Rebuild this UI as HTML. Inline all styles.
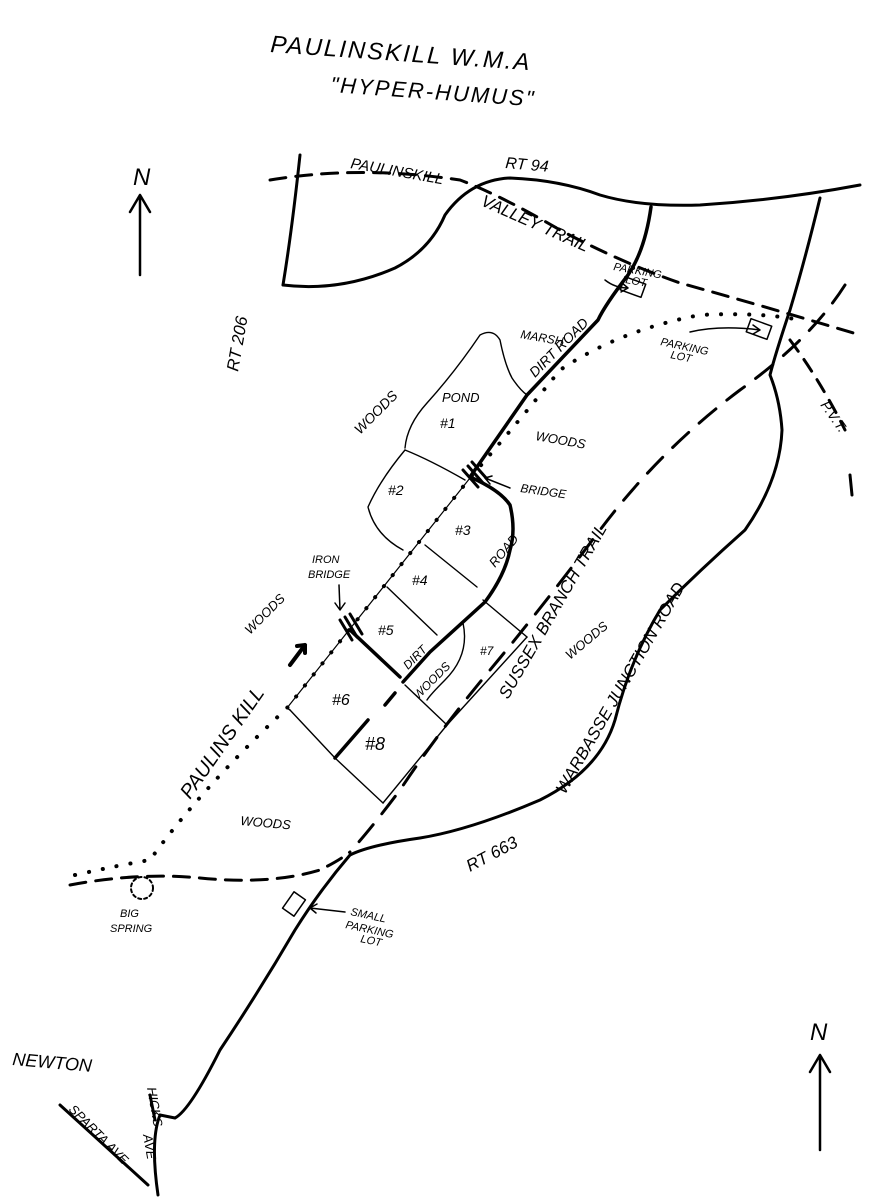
<!DOCTYPE html>
<html><head><meta charset="utf-8"><style>
html,body{margin:0;padding:0;background:#fff}
svg{display:block}
text{font-family:"Liberation Sans",sans-serif;font-style:italic;fill:#000}
</style></head><body>
<svg width="887" height="1200" viewBox="0 0 887 1200" xmlns="http://www.w3.org/2000/svg">
<g fill="none" stroke="#000" stroke-linecap="round" stroke-linejoin="round">
<!-- title -->
<!-- RT206 / RT94 roads -->
<path d="M300,155 Q292,230 283,285" stroke-width="3"/>
<path d="M283,285 Q340,292 395,268 Q430,250 445,215 Q470,180 510,178 Q560,180 600,195 Q640,207 700,205 Q780,200 860,185" stroke-width="3"/>
<path d="M283,285 Q250,330 218,375" stroke-width="0"/>
<!-- valley trail dashed -->
<path d="M270,180 Q360,165 460,180 Q500,195 560,230 Q620,262 680,283 Q760,305 860,335" stroke-width="3" stroke-dasharray="16,10"/>
<!-- road down from RT94 -->
<path d="M651,207 Q645,250 628,275 Q605,305 598,320 L527,395 L470,477" stroke-width="3.5"/>
<path d="M470,477 Q500,490 510,505 Q516,530 510,550 Q505,575 485,602 L430,652 L403,682" stroke-width="3.5"/>
<path d="M395,693 L385,705" stroke-width="3.5"/>
<path d="M350,630 L400,677" stroke-width="3.5"/>
<path d="M335,758 L368,720" stroke-width="3.5"/>
<!-- Warbasse junction road -->
<path d="M820,198 Q805,260 790,310 Q775,355 770,375 Q780,400 782,430 Q780,480 745,530 Q700,570 660,610 Q630,660 615,720 Q600,770 540,800 Q470,830 420,838 Q370,845 350,855 Q320,890 295,930 Q260,990 220,1050 Q190,1110 175,1118 L160,1115" stroke-width="3"/>
<path d="M160,1115 Q150,1140 158,1195" stroke-width="3"/>
<path d="M150,1095 L155,1120" stroke-width="3"/>
<path d="M60,1105 L148,1185" stroke-width="3"/>
<!-- sussex branch trail dashed -->
<path d="M845,285 Q810,340 740,390 Q660,450 600,530 Q540,610 490,670 Q440,730 400,790 Q370,830 350,852" stroke-width="3" stroke-dasharray="22,14"/>
<!-- PVT dashed -->
<path d="M790,340 Q820,380 845,430" stroke-width="3" stroke-dasharray="14,10"/>
<path d="M850,475 L852,495" stroke-width="3"/>
<!-- bottom dashed -->
<path d="M70,885 Q140,872 200,878 Q270,885 320,870 Q340,860 350,852" stroke-width="3" stroke-dasharray="16,10"/>
<!-- Paulins kill dotted -->
<path d="M75,875 Q120,865 150,860 Q200,790 287,708 L470,478 Q520,420 560,370 Q620,330 700,315 Q760,312 800,320" stroke-width="4" stroke-dasharray="0.1,14"/>
<path d="M287,708 L470,478" stroke-width="1.2"/>
<!-- ponds -->
<g stroke-width="1.4">
<path d="M405,448 Q407,425 427,403 Q455,372 480,335 Q493,328 500,340 Q505,365 512,378 Q520,390 527,395"/>
<path d="M405,450 Q430,460 465,480"/>
<path d="M405,450 Q380,480 368,507 Q375,535 403,550"/>
<path d="M425,545 L477,587"/>
<path d="M387,587 L437,635"/>
<path d="M483,600 L527,637"/>
<path d="M463,623 Q470,655 445,680 Q430,695 427,700"/>
<path d="M405,685 L447,725"/>
<path d="M290,710 L335,758 L383,803"/>
<path d="M527,637 L447,725 L383,803"/>
<path d="M287,708 L290,710"/>
</g>
<!-- bridges -->
<path d="M463,470 L478,487 M468,466 L483,483 M472,462 L487,479" stroke-width="3"/>
<path d="M340,620 L352,640 M345,617 L357,637 M350,614 L362,634" stroke-width="3"/>
<!-- parking boxes -->
<rect x="622" y="280" width="22" height="14" transform="rotate(20 633 287)" stroke-width="1.5"/>
<rect x="748" y="322" width="22" height="14" transform="rotate(20 759 329)" stroke-width="1.5"/>
<rect x="284" y="897" width="20" height="14" transform="rotate(-55 294 904)" stroke-width="1.5"/>
<circle cx="142" cy="888" r="11" stroke-width="2" stroke-dasharray="3,3"/>
<!-- arrows -->
<path d="M140,275 L140,195 M130,212 L140,195 L150,212" stroke-width="2.5"/>
<path d="M820,1150 L820,1055 M810,1072 L820,1055 L830,1072" stroke-width="2.5"/>
<path d="M605,280 Q615,288 628,288 M622,283 L628,288 L621,292" stroke-width="1.5"/>
<path d="M690,332 Q720,325 760,330 M753,325 L760,330 L753,334" stroke-width="1.5"/>
<path d="M510,488 L485,478 M492,476 L485,478 L490,484" stroke-width="1.5"/>
<path d="M339,585 L340,610 M335,603 L340,610 L345,603" stroke-width="1.5"/>
<path d="M345,912 L310,908 M317,904 L310,908 L316,913" stroke-width="1.5"/>
<path d="M290,665 L305,645 M297,646 L305,645 L305,653" stroke-width="4"/>
</g>
<g font-size="20">
<text x="270" y="52" transform="rotate(4 270 52)" font-size="24" letter-spacing="2">PAULINSKILL W.M.A</text>
<text x="330" y="92" transform="rotate(4 330 92)" font-size="22" letter-spacing="2">"HYPER-HUMUS"</text>
<text x="133" y="185" font-size="24">N</text>
<text x="810" y="1040" font-size="24">N</text>
<text x="350" y="168" font-size="15" transform="rotate(10 350 168)">PAULINSKILL</text>
<text x="505" y="168" font-size="16" transform="rotate(5 505 168)">RT 94</text>
<text x="480" y="205" font-size="17" transform="rotate(24 480 205)">VALLEY TRAIL</text>
<text x="238" y="372" font-size="17" transform="rotate(-80 238 372)">RT 206</text>
<text x="613" y="270" font-size="11" transform="rotate(10 613 270)">PARKING</text>
<text x="625" y="283" font-size="11" transform="rotate(10 625 283)">LOT</text>
<text x="660" y="345" font-size="11" transform="rotate(12 660 345)">PARKING</text>
<text x="670" y="358" font-size="11" transform="rotate(12 670 358)">LOT</text>
<text x="520" y="338" font-size="12" transform="rotate(10 520 338)">MARSH</text>
<text x="535" y="378" font-size="14" transform="rotate(-45 535 378)">DIRT ROAD</text>
<text x="360" y="435" font-size="14" transform="rotate(-45 360 435)">WOODS</text>
<text x="442" y="402" font-size="13">POND</text>
<text x="440" y="428" font-size="14">#1</text>
<text x="388" y="495" font-size="14">#2</text>
<text x="455" y="535" font-size="14">#3</text>
<text x="412" y="585" font-size="14">#4</text>
<text x="378" y="635" font-size="14">#5</text>
<text x="480" y="655" font-size="12">#7</text>
<text x="332" y="705" font-size="16">#6</text>
<text x="365" y="750" font-size="18">#8</text>
<text x="495" y="568" font-size="13" transform="rotate(-50 495 568)">ROAD</text>
<text x="408" y="670" font-size="12" transform="rotate(-45 408 670)">DIRT</text>
<text x="418" y="700" font-size="12" transform="rotate(-45 418 700)">WOODS</text>
<text x="535" y="440" font-size="13" transform="rotate(10 535 440)">WOODS</text>
<text x="520" y="492" font-size="12" transform="rotate(8 520 492)">BRIDGE</text>
<text x="312" y="563" font-size="11">IRON</text>
<text x="308" y="578" font-size="11">BRIDGE</text>
<text x="250" y="635" font-size="13" transform="rotate(-45 250 635)">WOODS</text>
<text x="190" y="800" font-size="20" transform="rotate(-55 190 800)">PAULINS KILL</text>
<text x="508" y="700" font-size="17" transform="rotate(-60 508 700)">SUSSEX BRANCH TRAIL</text>
<text x="570" y="660" font-size="13" transform="rotate(-40 570 660)">WOODS</text>
<text x="565" y="795" font-size="17" transform="rotate(-60 565 795)">WARBASSE JUNCTION ROAD</text>
<text x="470" y="872" font-size="17" transform="rotate(-28 470 872)">RT 663</text>
<text x="240" y="825" font-size="13" transform="rotate(5 240 825)">WOODS</text>
<text x="820" y="405" font-size="14" transform="rotate(55 820 405)">P.V.T.</text>
<text x="120" y="917" font-size="11">BIG</text>
<text x="110" y="932" font-size="11">SPRING</text>
<text x="350" y="915" font-size="11" transform="rotate(12 350 915)">SMALL</text>
<text x="345" y="928" font-size="11" transform="rotate(12 345 928)">PARKING</text>
<text x="360" y="942" font-size="11" transform="rotate(12 360 942)">LOT</text>
<text x="12" y="1065" font-size="18" transform="rotate(5 12 1065)">NEWTON</text>
<text x="147" y="1088" font-size="13" transform="rotate(80 147 1088)">HICKS</text>
<text x="143" y="1135" font-size="13" transform="rotate(80 143 1135)">AVE</text>
<text x="68" y="1110" font-size="13" transform="rotate(45 68 1110)">SPARTA AVE</text>
</g>
</svg>
</body></html>
